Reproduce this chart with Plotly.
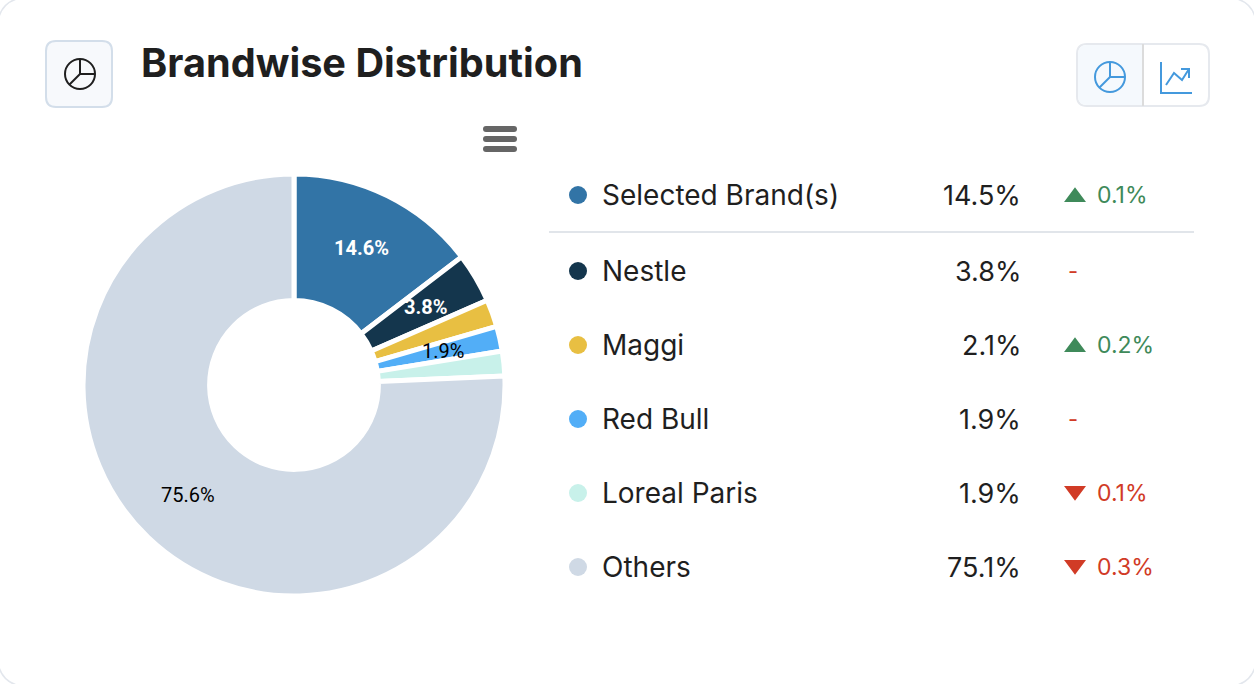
import numpy as np
import plotly.graph_objects as go

W = 1254
H = 684

# pie slices
slice_names = ["Selected Brand(s)", "Nestle", "Maggi", "Red Bull", "Loreal Paris", "Others"]
slice_values = [14.6, 3.8, 2.1, 1.9, 1.9, 75.6]
slice_labels = ["14.6%", "3.8%", "", "1.9%", "", "75.6%"]
slice_colors = ["#3274a6", "#14364d", "#e8bf42", "#52aef7", "#c8f1ea", "#cfd9e5"]
label_colors = ["#ffffff", "#ffffff", "#000000", "#000000", "#000000", "#000000"]

# table next to the pie
row_names = ["Selected Brand(s)", "Nestle", "Maggi", "Red Bull", "Loreal Paris", "Others"]
row_shares = ["14.5%", "3.8%", "2.1%", "1.9%", "1.9%", "75.1%"]
row_changes = ["0.1%", "-", "0.2%", "-", "0.1%", "0.3%"]
row_dirs = ["up", "none", "up", "none", "down", "down"]
row_y = [195, 271, 345, 419, 493, 567]

GREEN = "#3f8a5a"
RED = "#d13b26"
TEXT = "#1f1f1f"
BLUE = "#4499dd"
FONT = "Inter"

PIE_X = 294
PIE_Y = 385
PIE_R = 210
LABEL_R = 153


def px_rect(x0, y0, x1, y1, r):
    return (f"M{x0+r},{y0} L{x1-r},{y0} Q{x1},{y0} {x1},{y0+r} L{x1},{y1-r} Q{x1},{y1} {x1-r},{y1} "
            f"L{x0+r},{y1} Q{x0},{y1} {x0},{y1-r} L{x0},{y0+r} Q{x0},{y0} {x0+r},{y0} Z")


def line(x0, y0, x1, y1, color, width):
    return dict(type="line", xref="x", yref="y", x0=x0, y0=y0, x1=x1, y1=y1,
                line=dict(color=color, width=width))


def pie_icon(cx, cy, r, color, width):
    return [
        dict(type="circle", xref="x", yref="y", x0=cx-r, y0=cy-r, x1=cx+r, y1=cy+r,
             line=dict(color=color, width=width)),
        line(cx, cy-r, cx, cy, color, width),
        line(cx, cy, cx+r, cy, color, width),
        line(cx, cy, cx-r*0.7, cy+r*0.7, color, width),
    ]


shapes = [
    # card
    dict(type="path", xref="x", yref="y", path=px_rect(-3, -3, W+3, H+3, 34),
         fillcolor="#ffffff", line=dict(color="#e3e7ed", width=1.5), layer="below"),
    # title icon button
    dict(type="path", xref="x", yref="y", path=px_rect(46, 41, 112, 107, 10),
         fillcolor="#f7f9fc", line=dict(color="#d3deea", width=2), layer="below"),
    # toggle
    dict(type="path", xref="x", yref="y", path=px_rect(1077, 44, 1209, 106, 10),
         fillcolor="#ffffff", line=dict(color="#e6e9ee", width=2), layer="below"),
    dict(type="path", xref="x", yref="y",
         path="M1143,45 L1087,45 Q1078,45 1078,54 L1078,96 Q1078,105 1087,105 L1143,105 Z",
         fillcolor="#f5f9fd", line=dict(width=0), layer="below"),
    line(1143, 44, 1143, 106, "#dcdcdc", 2),
    # line chart icon
    dict(type="path", xref="x", yref="y", path="M1161,62 L1161,93 L1192,93",
         line=dict(color=BLUE, width=2)),
    dict(type="path", xref="x", yref="y", path="M1166,85 L1174,73 L1182,80 L1189,69",
         line=dict(color=BLUE, width=2)),
    dict(type="path", xref="x", yref="y", path="M1181,69 L1189,69 L1189,78",
         line=dict(color=BLUE, width=2)),
    # divider under the first row
    line(549, 232, 1194, 232, "#e1e5ea", 2),
]
shapes += pie_icon(80, 74, 15, "#1f1f1f", 2)
shapes += pie_icon(1110, 77, 15, BLUE, 2)
for y in [129, 139, 149]:
    shapes.append(dict(type="path", xref="x", yref="y", path=px_rect(483, y-3, 517, y+3, 3),
                       fillcolor="#666666", line=dict(width=0)))

# change arrows, flat triangles with soft corners
for i, y in enumerate(row_y):
    if row_dirs[i] == "up":
        shapes.append(dict(type="path", xref="x", yref="y",
                           path=f"M1066,{y+6} L1075,{y-6} L1084,{y+6} Z",
                           fillcolor=GREEN, line=dict(color=GREEN, width=2)))
    elif row_dirs[i] == "down":
        shapes.append(dict(type="path", xref="x", yref="y",
                           path=f"M1066,{y-6} L1075,{y+6} L1084,{y-6} Z",
                           fillcolor=RED, line=dict(color=RED, width=2)))

fig = go.Figure()

fig.add_trace(go.Pie(
    labels=slice_names,
    values=slice_values,
    textinfo="none",
    marker=dict(colors=slice_colors, line=dict(color="#ffffff", width=5)),
    hole=0.40,
    sort=False,
    direction="clockwise",
    rotation=0,
    showlegend=False,
    domain=dict(x=[(PIE_X-PIE_R-1)/W, (PIE_X+PIE_R+1)/W],
                y=[(H-PIE_Y-PIE_R-1)/H, (H-PIE_Y+PIE_R+1)/H]),
))

# legend dots
fig.add_trace(go.Scatter(
    x=[578]*len(row_y), y=row_y, mode="markers", showlegend=False,
    marker=dict(size=18, color=slice_colors),
))

annotations = [dict(text="<b>Brandwise Distribution</b>", x=139, y=63, xref="x", yref="y",
                    xanchor="left", yanchor="middle", showarrow=False,
                    font=dict(family=FONT, size=39.7, color=TEXT))]

# slice labels sit halfway across the ring, at each slice's mid angle
mids = (np.cumsum(slice_values) - np.array(slice_values)/2) / sum(slice_values) * 2*np.pi
for i, label in enumerate(slice_labels):
    if not label:
        continue
    is_white = label_colors[i] == "#ffffff"
    annotations.append(dict(text=f"<b>{label}</b>" if is_white else label,
                            x=PIE_X + LABEL_R*np.sin(mids[i]), y=PIE_Y - LABEL_R*np.cos(mids[i]),
                            xref="x", yref="y", xanchor="center", yanchor="middle", showarrow=False,
                            font=dict(family="Roboto", size=20, color=label_colors[i])))

for i, y in enumerate(row_y):
    annotations.append(dict(text=row_names[i], x=600, y=y, xref="x", yref="y", xanchor="left",
                            yanchor="middle", showarrow=False,
                            font=dict(family=FONT, size=28, color=TEXT)))
    annotations.append(dict(text=row_shares[i], x=1023, y=y, xref="x", yref="y", xanchor="right",
                            yanchor="middle", showarrow=False,
                            font=dict(family=FONT, size=27, color=TEXT)))
    if row_dirs[i] == "none":
        annotations.append(dict(text=row_changes[i], x=1073, y=y, xref="x", yref="y", xanchor="center",
                                yanchor="middle", showarrow=False,
                                font=dict(family=FONT, size=22, color=RED)))
    else:
        annotations.append(dict(text=row_changes[i], x=1095, y=y, xref="x", yref="y", xanchor="left",
                                yanchor="middle", showarrow=False,
                                font=dict(family=FONT, size=23,
                                          color=GREEN if row_dirs[i] == "up" else RED)))

fig.update_layout(
    width=W, height=H, margin=dict(l=0, r=0, t=0, b=0),
    paper_bgcolor="#ffffff", plot_bgcolor="rgba(0,0,0,0)",
    xaxis=dict(range=[0, W], visible=False, fixedrange=True),
    yaxis=dict(range=[H, 0], visible=False, fixedrange=True),
    shapes=shapes, annotations=annotations,
)

fig.write_html("out.html", config=dict(displayModeBar=False),
               post_script="document.body.style.margin='0';")
